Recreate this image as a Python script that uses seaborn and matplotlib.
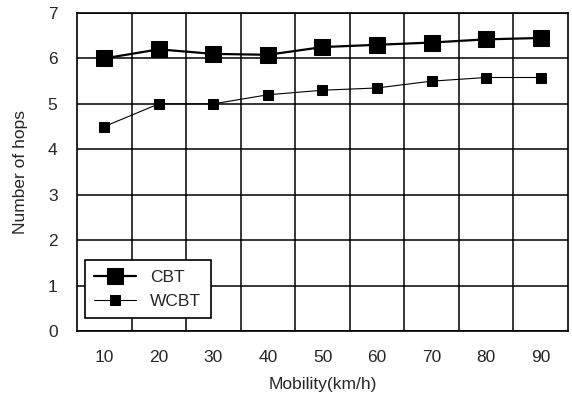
import matplotlib
matplotlib.use("Agg")
import matplotlib.pyplot as plt
import seaborn as sns
import pandas as pd
import numpy as np

mobility = [10, 20, 30, 40, 50, 60, 70, 80, 90]
cbt = [6.0, 6.2, 6.1, 6.08, 6.25, 6.3, 6.35, 6.42, 6.45]
wcbt = [4.5, 5.0, 5.0, 5.2, 5.3, 5.35, 5.5, 5.58, 5.58]
yticks = [0, 1, 2, 3, 4, 5, 6, 7]

sns.set_style("white")
plt.rcParams['font.family'] = ['Liberation Sans', 'DejaVu Sans']

fig = plt.figure(figsize=(5.72, 4.0), dpi=100)
ax = fig.add_axes([0.1346, 0.1725, 0.8584, 0.795])

pos = list(range(len(mobility)))
df = pd.DataFrame({"pos": pos, "CBT": cbt, "WCBT": wcbt})

sns.lineplot(data=df, x="pos", y="CBT", ax=ax, color="black", marker="s",
             markersize=12, linewidth=1.6, label="CBT", markeredgecolor="black")
sns.lineplot(data=df, x="pos", y="WCBT", ax=ax, color="black", marker="s",
             markersize=7.5, linewidth=0.8, label="WCBT", markeredgecolor="black")

fs = 12.5
ax.set_xlim(-0.5, len(mobility) - 0.5)
ax.set_ylim(0, 7)
ax.set_xticks(pos)
ax.set_xticklabels([str(m) for m in mobility])
ax.set_xticks([p + 0.5 for p in pos[:-1]], minor=True)
ax.set_yticks(yticks)
ax.grid(False)
ax.grid(True, which="minor", axis="x", color="black", linewidth=1.1)
ax.grid(True, which="major", axis="y", color="black", linewidth=1.1)
ax.tick_params(axis="both", which="both", length=0, labelsize=fs)
ax.tick_params(axis="x", pad=14)
ax.tick_params(axis="y", pad=14)
for s in ax.spines.values():
    s.set_color("black")
    s.set_linewidth(1.2)

ax.set_xlabel("Mobility(km/h)", fontsize=fs, labelpad=8)
ax.set_ylabel("Number of hops", fontsize=fs, labelpad=14)

leg = ax.legend(loc="lower left", bbox_to_anchor=(0.016, 0.04), fontsize=fs,
                frameon=True, fancybox=False, edgecolor="black", framealpha=1,
                handlelength=2.4, borderpad=0.55, labelspacing=0.5,
                borderaxespad=0)
leg.get_frame().set_linewidth(1.2)

fig.savefig("out.png", dpi=100)
